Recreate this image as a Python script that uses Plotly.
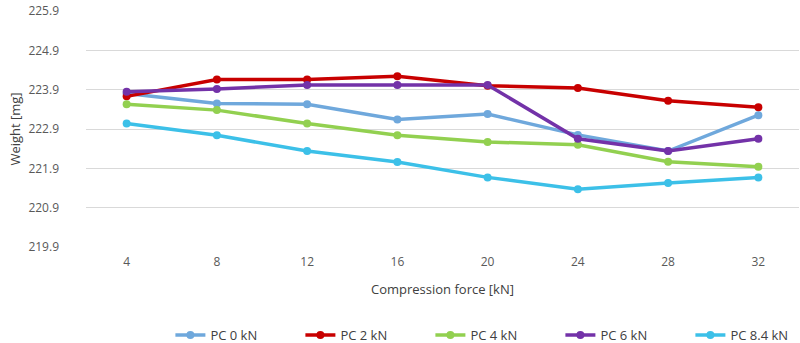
import plotly.graph_objects as go

# Compression force categories (kN)
force = ["4", "8", "12", "16", "20", "24", "28", "32"]

# Tablet weight [mg] per pre-compression level
pc_0 = [223.80, 223.55, 223.53, 223.14, 223.28, 222.75, 222.34, 223.25]
pc_2 = [223.73, 224.16, 224.16, 224.24, 224.00, 223.94, 223.62, 223.45]
pc_4 = [223.53, 223.38, 223.04, 222.74, 222.57, 222.50, 222.07, 221.94]
pc_6 = [223.85, 223.92, 224.02, 224.02, 224.02, 222.65, 222.34, 222.65]
pc_84 = [223.04, 222.74, 222.34, 222.06, 221.67, 221.37, 221.53, 221.67]

series_names = ["PC 0 kN", "PC 2 kN", "PC 4 kN", "PC 6 kN", "PC 8.4 kN"]
series_values = [pc_0, pc_2, pc_4, pc_6, pc_84]
series_colors = ["#6fa8dc", "#c80000", "#92d050", "#7332a8", "#3cc0e8"]

y_ticks = [219.9, 220.9, 221.9, 222.9, 223.9, 224.9, 225.9]

fig = go.Figure()
for name, vals, col in zip(series_names, series_values, series_colors):
    fig.add_trace(go.Scatter(
        x=force, y=vals, name=name, mode="lines+markers",
        line=dict(color=col, width=3.5),
        marker=dict(color=col, size=8),
    ))

font_family = "Open Sans, Noto Sans, sans-serif"
fig.update_layout(
    width=800, height=343,
    margin=dict(l=86, r=1, t=11, b=96, autoexpand=False),
    paper_bgcolor="white", plot_bgcolor="white",
    font=dict(family=font_family, size=12, color="#595959"),
    showlegend=True,
    legend=dict(
        orientation="h", xref="container", yref="container",
        x=0.213, xanchor="left", y=0.023, yanchor="middle",
        entrywidth=85, font=dict(size=13, color="#404040"),
        itemwidth=30, bgcolor="rgba(0,0,0,0)",
    ),
    xaxis=dict(
        type="category", showgrid=False, showline=False, ticks="",
        ticklabelstandoff=6,
        title=dict(text="Compression force [kN]", standoff=15,
                   font=dict(size=13, color="#404040")),
        tickfont=dict(size=12, color="#595959"),
    ),
    yaxis=dict(
        range=[219.9, 225.9], tickvals=y_ticks,
        ticktext=[f"{v:.1f}" for v in y_ticks],
        showgrid=True, gridcolor="#d9d9d9", gridwidth=1,
        zeroline=False, showline=False, ticks="",
        ticklabelstandoff=26,
        title=dict(text="Weight [mg]", standoff=4,
                   font=dict(size=13, color="#404040")),
        tickfont=dict(size=12, color="#595959"),
    ),
)

fig.write_html("out.html")
